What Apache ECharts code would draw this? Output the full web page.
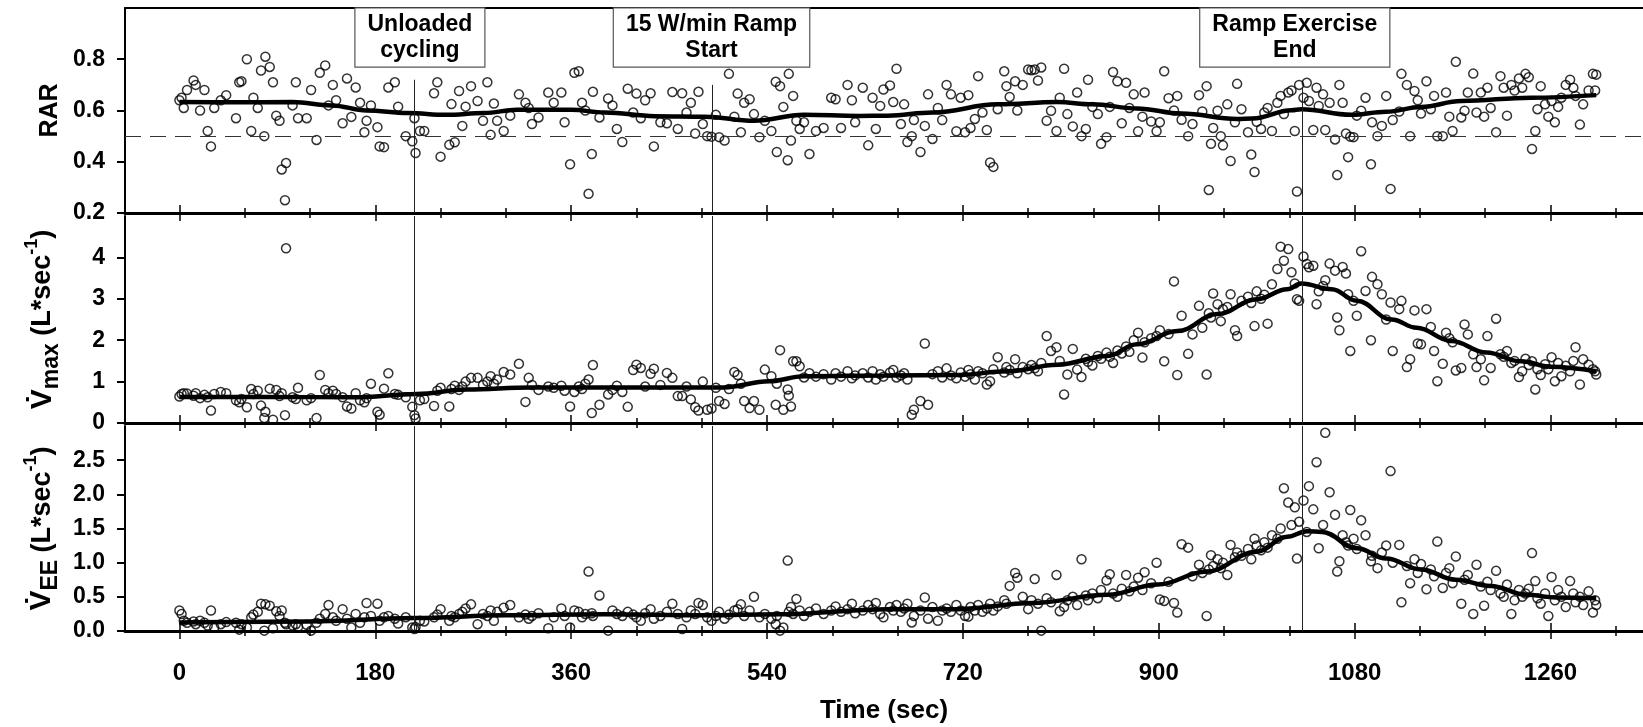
<!DOCTYPE html>
<html>
<head>
<meta charset="utf-8">
<title>RAR, Vmax and VEE during ramp exercise</title>
<script src="https://cdn.jsdelivr.net/npm/echarts@6.0.0/dist/echarts.min.js"></script>
<style>
  html, body { margin: 0; padding: 0; background: #fff; }
  #chart { width: 1643px; height: 727px; }
</style>
</head>
<body>
<div id="chart"></div>
<script>
// breath-by-breath data (time in sec)
const breathTime = [
  0, 2, 4, 7, 13, 15, 19, 23, 26, 29,
  32, 38, 43, 52, 55, 57, 62, 66, 68, 72,
  75, 78, 79, 83, 86, 89, 92, 94, 97, 98,
  104, 107, 109, 117, 121, 126, 129, 134, 137, 141,
  144, 150, 154, 158, 162, 166, 170, 172, 176, 182,
  184, 188, 192, 198, 201, 208, 214, 216, 217, 221,
  225, 234, 237, 240, 248, 250, 253, 257, 260, 263,
  268, 274, 279, 283, 286, 289, 292, 298, 304, 312,
  318, 321, 324, 330, 339, 344, 351, 354, 359, 363,
  367, 370, 373, 376, 379, 380, 386, 394, 398, 402,
  407, 412, 417, 420, 424, 428, 433, 436, 442, 448,
  453, 458, 462, 466, 470, 474, 477, 481, 485, 489,
  493, 496, 501, 505, 510, 513, 516, 519, 524, 528,
  533, 538, 544, 548, 549, 552, 555, 559, 560, 562,
  564, 567, 570, 574, 579, 585, 592, 599, 603, 608,
  614, 618, 621, 628, 633, 637, 640, 644, 647, 653,
  656, 659, 663, 666, 669, 673, 675, 681, 685, 688,
  692, 697, 701, 705, 709, 714, 718, 722, 725, 727,
  731, 734, 738, 742, 745, 748, 752, 758, 760, 763,
  768, 770, 775, 780, 783, 786, 789, 792, 797, 801,
  806, 809, 813, 816, 821, 825, 829, 833, 835, 839,
  844, 847, 852, 855, 858, 862, 866, 870, 873, 877,
  881, 885, 887, 893, 898, 901, 905, 909, 914, 917,
  921, 927, 931, 937, 940, 944, 946, 948, 950, 954,
  957, 959, 963, 966, 970, 972, 976, 982, 985, 988,
  990, 994, 997, 1000, 1004, 1009, 1012, 1015, 1019, 1022,
  1025, 1027, 1029, 1033, 1036, 1038, 1042, 1045, 1047, 1051,
  1053, 1057, 1062, 1064, 1066, 1069, 1072, 1074, 1076, 1079,
  1082, 1086, 1090, 1095, 1096, 1101, 1105, 1109, 1113, 1115,
  1121, 1123, 1128, 1131, 1135, 1138, 1141, 1146, 1150, 1153,
  1156, 1161, 1164, 1167, 1170, 1173, 1178, 1181, 1184, 1189,
  1192, 1196, 1199, 1202, 1205, 1210, 1214, 1217, 1220, 1224,
  1227, 1231, 1234, 1237, 1240, 1243, 1246, 1248, 1251, 1255,
  1258, 1261, 1264, 1267, 1270, 1274, 1278, 1281, 1283, 1287,
  1290, 1295, 1299, 1301, 1302
]

const rar = [
  .64, .65, .61, .68, .717, .70, .60, .68, .52, .46,
  .61, .64, .66, .57, .71, .714, .80, .52, .65, .61,
  .756, .50, .81, .77, .71, .58, .56, .37, .25, .395,
  .62, .71, .57, .57, .68, .485, .747, .776, .62, .70,
  .64, .55, .725, .575, .69, .63, .515, .56, .62, .535,
  .46, .457, .69, .71, .615, .50, .48, .57, .434, .52,
  .52, .667, .71, .42, .466, .625, .476, .676, .54, .615,
  .695, .637, .56, .71, .505, .627, .56, .52, .58, .663,
  .63, .61, .547, .573, .67, .63, .67, .554, .39, .747,
  .753, .63, .60, .275, .43, .673, .573, .647, .62, .528,
  .477, .685, .592, .666, .57, .64, .667, .46, .554, .55,
  .672, .528, .667, .592, .63, .51, .673, .547, .50, .498,
  .583, .496, .483, .743, .576, .666, .515, .63, .644, .586,
  .496, .56, .52, .712, .438, .695, .614, .406, .743, .483,
  .657, .56, .528, .554, .43, .52, .532, .65, .644, .532,
  .70, .64, .554, .689, .464, .65, .528, .618, .682, .698,
  .633, .763, .547, .624, .477, .50, .563, .438, .54, .663,
  .489, .61, .563, .70, .663, .519, .65, .515, .66, .532,
  .567, .734, .592, .524, .397, .38, .605, .753, .695, .653,
  .714, .60, .70, .76, .757, .76, .717, .768, .56, .599,
  .52, .65, .763, .586, .538, .67, .50, .528, .72, .614,
  .586, .47, .496, .614, .75, .714, .55, .708, .61, .663,
  .519, .576, .67, .557, .519, .554, .753, .648, .60, .657,
  .564, .50, .547, .66, .596, .695, .29, .47, .532, .599,
  .50, .464, .624, .403, .554, .704, .605, .515, .428, .36,
  .556, .528, .592, .61, .52, .63, .657, .586, .67, .678,
  .52, .284, .70, .65, .708, .637, .524, .689, .618, .663,
  .524, .63, .487, .348, .70, .63, .51, .418, .498, .496,
  .58, .599, .65, .39, .554, .50, .54, .657, .294, .563,
  .596, .743, .70, .50, .676, .64, .588, .714, .605, .657,
  .50, .50, .67, .576, .52, .79, .573, .599, .67, .744,
  .592, .67, .576, .689, .61, .515, .734, .689, .58, .70,
  .678, .725, .689, .743, .73, .45, .52, .605, .695, .624,
  .576, .637, .554, .614, .65, .70, .72, .689, .657, .545,
  .624, .678, .743, .678, .74
]

const vmax = [
  .64, .70, .72, .71, .66, .72, .60, .68, .62, .30,
  .70, .75, .72, .55, .50, .58, .38, .82, .70, .78,
  .42, .12, .27, .83, .08, .80, .65, .72, .19, 4.22,
  .62, .58, .85, .55, .60, .12, 1.16, .80, .72, .78,
  .70, .62, .40, .35, .72, .55, .50, .60, .95, .27,
  .20, .83, 1.20, .70, .68, .62, .39, .19, .11, .55,
  .58, .41, .78, .85, .40, .82, .90, .80, .88, 1.00,
  1.09, 1.09, .92, 1.00, 1.13, .95, 1.05, 1.23, 1.17, 1.43,
  .51, 1.09, .92, .80, .88, .85, .90, .78, .40, .75,
  .88, .82, .95, 1.05, .24, 1.40, .44, .69, .80, .90,
  .75, .39, 1.28, 1.41, 1.33, .88, 1.19, 1.31, .92, 1.21,
  1.09, .65, .65, .88, .57, .38, .30, 1.00, .32, .35,
  .85, .53, .46, .82, 1.23, 1.16, .95, .53, .36, .53,
  .32, 1.29, 1.13, .44, .95, 1.76, .32, .81, .66, .40,
  1.49, 1.49, 1.37, 1.10, 1.20, 1.12, 1.18, 1.05, 1.20, 1.12,
  1.25, 1.08, 1.15, 1.20, 1.10, 1.25, 1.05, 1.18, 1.12, 1.22,
  1.28, 1.10, 1.15, 1.20, 1.05, .20, .32, .53, 1.92, .44,
  1.18, 1.25, 1.10, 1.32, 1.15, 1.08, 1.22, 1.12, 1.28, 1.18,
  1.05, 1.25, 1.20, .93, 1.01, 1.30, 1.59, 1.22, 1.35, 1.28,
  1.54, 1.20, 1.35, 1.30, 1.40, 1.32, 1.25, 1.45, 2.10, 1.74,
  1.83, 1.50, .69, 1.17, 1.79, 1.29, 1.11, 1.55, 1.48, 1.39,
  1.62, 1.55, 1.70, 1.60, 1.45, 1.75, 1.68, 1.85, 1.72, 2.00,
  2.18, 1.58, 1.95, 2.05, 2.10, 2.24, 1.49, 2.15, 3.42, 1.16,
  2.59, 1.67, 2.14, 2.83, 2.30, 1.17, 2.65, 2.55, 3.13, 2.87,
  2.46, 2.75, 2.80, 3.11, 2.24, 2.10, 2.95, 3.05, 2.90, 2.34,
  3.18, 3.00, 3.10, 2.40, 3.35, 3.72, 4.26, 3.92, 4.20, 3.64,
  3.37, 2.99, 2.95, 4.02, 3.84, 3.76, 3.80, 2.87, 3.18, 3.31,
  3.45, 3.85, 3.68, 2.55, 2.24, 3.77, 3.61, 3.11, 1.74, 2.95,
  2.59, 4.15, 3.19, 2.00, 3.53, 3.35, 3.11, 2.50, 2.91, 1.74,
  2.75, 2.95, 1.35, 1.54, 2.72, 1.92, 1.90, 2.75, 2.32, 1.74,
  1.01, 1.43, 2.18, 2.05, 1.95, 1.27, 1.33, 2.38, 2.14, 1.66,
  1.35, 1.54, 1.03, 2.10, 1.33, 2.52, 1.66, 1.60, 1.74, 1.45,
  1.50, 1.11, 1.25, 1.55, 1.40, 1.49, .81, 1.30, 1.16, 1.42,
  1.30, 1.59, 1.01, 1.45, 1.13, 1.38, 1.25, 1.50, 1.83, .93,
  1.54, 1.41, 1.30, 1.25, 1.17
]

const vee = [
  .30, .25, .15, .12, .14, .10, .15, .12, .08, .30,
  .05, .10, .13, .12, .02, .10, .05, .20, .24, .28,
  .40, .005, .39, .37, .04, .29, .22, .30, .12, .10,
  .08, .10, .06, .09, .005, .12, .18, .25, .38, .20,
  .15, .32, .18, .05, .25, .12, .20, .41, .22, .40,
  .15, .20, .22, .18, .11, .20, .05, .03, .06, .15,
  .14, .20, .24, .32, .15, .22, .20, .25, .28, .33,
  .39, .10, .25, .22, .30, .15, .28, .34, .38, .20,
  .24, .18, .22, .26, .04, .20, .33, .22, .05, .30,
  .28, .20, .25, .87, .26, .22, .52, .005, .30, .25,
  .22, .28, .24, .20, .15, .26, .32, .18, .22, .28,
  .40, .25, .03, .20, .30, .25, .41, .38, .20, .15,
  .22, .28, .18, .24, .30, .32, .39, .22, .30, .50,
  .20, .25, .18, .10, .22, .005, .05, 1.03, .28, .35,
  .25, .47, .30, .22, .28, .33, .25, .30, .36, .28,
  .32, .40, .26, .30, .38, .32, .41, .25, .20, .35,
  .30, .38, .28, .33, .40, .125, .22, .30, .49, .18,
  .35, .15, .30, .33, .28, .38, .30, .22, .21, .35,
  .30, .38, .28, .33, .40, .30, .36, .45, .40, .66,
  .85, .78, .50, .32, .45, .76, .40, .005, .48, .42,
  .82, .29, .35, .45, .50, .38, 1.05, .52, .45, .55,
  .48, .60, .74, .83, .55, .50, .62, .82, .58, .65,
  .78, .60, .86, .70, 1.00, .46, .44, .72, .41, .27,
  1.27, 1.22, .80, .97, .85, .22, .90, 1.11, .95, 1.05,
  .92, 1.00, .82, 1.26, 1.08, 1.15, 1.10, 1.20, 1.05, 1.35,
  1.25, 1.18, 1.30, 1.22, 1.40, 1.35, 1.50, 2.09, 1.88, 1.55,
  1.81, 1.06, 1.60, 1.91, 1.45, 2.12, 1.78, 2.47, 1.21, 1.55,
  2.90, 2.03, 1.70, .87, 1.02, 1.40, 1.30, 1.25, 1.77, 1.35,
  1.20, 1.62, 1.40, 1.02, 1.10, .92, 1.15, 1.25, 2.34, 1.00,
  1.26, .42, .95, .70, 1.05, .85, .98, .61, .90, .80,
  1.31, .63, .85, .92, .70, 1.09, .40, .75, .82, .25,
  .97, .65, .37, .72, .60, .88, .55, .50, .68, .25,
  .45, .60, .50, .55, .62, 1.14, .73, .48, .40, .55,
  .22, .79, .45, .60, .50, .35, .73, .55, .42, .50,
  .38, .58, .27, .45, .38
]

// smoothed curves
const rarFitTime = [0, 50, 104, 140, 172, 210, 245, 280, 310, 360, 391, 437, 483, 528, 574, 624, 651, 692, 752, 807, 839, 880, 921, 972, 986, 1022, 1031, 1077, 1109, 1141, 1178, 1242, 1302]
const rarFit = [0.633, 0.632, 0.633, 0.62, 0.60, 0.59, 0.583, 0.59, 0.603, 0.603, 0.592, 0.578, 0.576, 0.56, 0.583, 0.579, 0.58, 0.592, 0.624, 0.633, 0.624, 0.608, 0.588, 0.567, 0.569, 0.601, 0.605, 0.583, 0.595, 0.614, 0.637, 0.65, 0.66]

const vmaxFitTime = [0, 80, 160, 218, 264, 323, 400, 500, 542, 574, 650, 715, 761, 807, 853, 880, 917, 954, 990, 1018, 1031, 1059, 1082, 1114, 1137, 1169, 1201, 1233, 1260, 1302]
const vmaxFit = [0.63, 0.63, 0.62, 0.70, 0.81, 0.86, 0.86, 0.86, 1.01, 1.13, 1.15, 1.16, 1.25, 1.41, 1.62, 1.90, 2.22, 2.63, 2.99, 3.23, 3.37, 3.23, 2.95, 2.50, 2.30, 1.98, 1.70, 1.49, 1.36, 1.25]

const veeFitTime = [0, 118, 216, 300, 391, 483, 551, 651, 715, 784, 853, 899, 944, 990, 1018, 1036, 1050, 1082, 1109, 1141, 1173, 1205, 1238, 1265, 1302]
const veeFit = [0.125, 0.14, 0.19, 0.23, 0.245, 0.23, 0.245, 0.32, 0.32, 0.41, 0.53, 0.68, 0.87, 1.16, 1.38, 1.46, 1.45, 1.21, 1.06, 0.90, 0.75, 0.66, 0.53, 0.49, 0.48]

// ticks
const majorTicks = [0, 180, 360, 540, 720, 900, 1080, 1260]
const minorTicks = [60, 120, 240, 300, 420, 480, 600, 660, 780, 840, 960, 1020, 1140, 1200, 1320]
const rarTicks = [0.2, 0.4, 0.6, 0.8]
const vmaxTicks = [0, 1, 2, 3, 4]
const veeTicks = [0, 0.5, 1, 1.5, 2, 2.5]

// protocol events
const eventTime = [216, 490, 1032]
const eventLabel = ['Unloaded\ncycling', '15 W/min Ramp\nStart', 'Ramp Exercise\nEnd']

const FONT = "'Liberation Sans', Arial, Helvetica, sans-serif"
const X_MIN = -50
const X_MAX = 1345
const eventLineTop = [0.72, 0.70, 0.69]
const boxCenterX = [221, 489, 1025]
const boxCenterY = 0.885

const myChart = echarts.init(document.getElementById('chart'), null, { renderer: 'canvas' })

const pairs = (xs, ys) => xs.map((x, i) => [x, ys[i]])
const boldText = (size) => ({ fontSize: size, fontWeight: 'bold', color: '#000', fontFamily: FONT })

function xAxesFor(g, withLabels) {
  const base = {
    type: 'value', gridIndex: g, min: X_MIN, max: X_MAX, position: 'bottom',
    splitLine: { show: false },
    axisLine: { show: false, onZero: false },
    axisLabel: { show: false },
  }
  const tick = (values, inside, length) => ({
    show: true, customValues: values, inside: inside, length: length,
    lineStyle: { color: '#000', width: 1.5 },
  })
  const axes = [
    Object.assign({}, base, {
      axisLine: { show: true, onZero: false, lineStyle: { color: '#000', width: 3 } },
      axisTick: tick(majorTicks, false, 8),
    }),
    Object.assign({}, base, { axisTick: tick(majorTicks, true, 8) }),
    Object.assign({}, base, { axisTick: tick(minorTicks, false, 5) }),
    Object.assign({}, base, { axisTick: tick(minorTicks, true, 5) }),
  ]
  if (withLabels) {
    axes[0].axisLabel = Object.assign({
      show: true, customValues: majorTicks, margin: 30, formatter: (v) => String(v),
    }, boldText(24))
    axes[0].name = 'Time (sec)'
    axes[0].nameLocation = 'middle'
    axes[0].nameGap = 67
    axes[0].nameTextStyle = boldText(26)
  }
  return axes
}

function yAxisFor(g, min, max, ticks, digits, name, gap, nameStyle) {
  return {
    type: 'value', gridIndex: g, min: min, max: max,
    splitLine: { show: false },
    axisLine: { show: true, onZero: false, lineStyle: { color: '#000', width: 2 } },
    axisTick: { show: true, customValues: ticks, length: 8, lineStyle: { color: '#000', width: 2 } },
    axisLabel: Object.assign({ customValues: ticks, margin: 20, formatter: (v) => v.toFixed(digits) }, boldText(23)),
    name: name, nameLocation: 'middle', nameRotate: 90, nameGap: gap,
    nameTextStyle: nameStyle,
  }
}

const flowNameStyle = {
  rich: {
    v: Object.assign({ lineHeight: 40, verticalAlign: 'middle' }, boldText(30)),
    s: Object.assign({ lineHeight: 30, verticalAlign: 'bottom' }, boldText(23)),
    t: Object.assign({ lineHeight: 40, verticalAlign: 'middle' }, boldText(27)),
    p: Object.assign({ lineHeight: 18, verticalAlign: 'top' }, boldText(18)),
  },
}

const scatterBase = {
  type: 'scatter', symbol: 'circle', symbolSize: 9, silent: true, z: 2,
  itemStyle: { color: 'rgba(255,255,255,0)', borderColor: '#000', borderWidth: 1.5 },
}
const fitBase = {
  type: 'line', smooth: 0.4, smoothMonotone: 'x', symbol: 'none', silent: true, z: 3,
  lineStyle: { color: '#000', width: 4.5 },
}
const markLineBase = {
  silent: true, symbol: ['none', 'none'], label: { show: false },
  lineStyle: { color: '#222', width: 1, type: 'solid' },
}

let option = {
  animation: false,
  backgroundColor: '#fff',
  textStyle: { fontFamily: FONT },
  grid: [
    { left: 125, right: 0, top: 8, height: 205, containLabel: false },
    { left: 125, right: 0, top: 216, height: 207, containLabel: false },
    { left: 125, right: 0, top: 426, height: 205, containLabel: false },
  ],
  xAxis: [
    ...xAxesFor(0, false),
    ...xAxesFor(1, false),
    ...xAxesFor(2, true),
    // frame line along the top of the first panel
    {
      type: 'value', gridIndex: 0, min: X_MIN, max: X_MAX, position: 'top',
      axisLine: { show: true, onZero: false, lineStyle: { color: '#000', width: 2 } },
      axisTick: { show: false }, axisLabel: { show: false }, splitLine: { show: false },
    },
  ],
  yAxis: [
    yAxisFor(0, 0.2, 1.0, rarTicks, 1, 'RAR', 56, boldText(25)),
    yAxisFor(1, 0, 5, vmaxTicks, 0, '{v|V\u0307}{s|max}{t| (L*sec}{p|-1}{t|)}', 62, flowNameStyle),
    yAxisFor(2, 0, 3, veeTicks, 1, '{v|V\u0307}{s|EE}{t| (L*sec}{p|-1}{t|)}', 62, flowNameStyle),
  ],
  series: [
    Object.assign({}, scatterBase, {
      name: 'RAR', xAxisIndex: 0, yAxisIndex: 0, data: pairs(breathTime, rar),
      markLine: Object.assign({}, markLineBase, {
        data: [
          { yAxis: 0.5, lineStyle: { type: [16, 9], color: '#333', width: 1 } },
          ...eventTime.map((t, i) => [{ coord: [t, eventLineTop[i]] }, { coord: [t, 0.2] }]),
        ],
      }),
      markPoint: {
        silent: true, symbol: 'rect', symbolSize: 1,
        itemStyle: { color: 'rgba(0,0,0,0)' },
        label: Object.assign({
          show: true, position: 'inside', formatter: '{b}', lineHeight: 26, align: 'center',
          backgroundColor: '#fff', borderColor: '#555', borderWidth: 1.2, padding: [3, 12],
        }, boldText(23)),
        data: eventLabel.map((s, i) => ({ name: s, coord: [boxCenterX[i], boxCenterY] })),
      },
    }),
    Object.assign({}, fitBase, { name: 'RAR fit', xAxisIndex: 0, yAxisIndex: 0, data: pairs(rarFitTime, rarFit) }),
    Object.assign({}, scatterBase, {
      name: 'Vmax', xAxisIndex: 4, yAxisIndex: 1, data: pairs(breathTime, vmax),
      markLine: Object.assign({}, markLineBase, { data: eventTime.map((t) => ({ xAxis: t })) }),
    }),
    Object.assign({}, fitBase, { name: 'Vmax fit', xAxisIndex: 4, yAxisIndex: 1, data: pairs(vmaxFitTime, vmaxFit) }),
    Object.assign({}, scatterBase, {
      name: 'VEE', xAxisIndex: 8, yAxisIndex: 2, data: pairs(breathTime, vee),
      markLine: Object.assign({}, markLineBase, { data: eventTime.map((t) => ({ xAxis: t })) }),
    }),
    Object.assign({}, fitBase, { name: 'VEE fit', xAxisIndex: 8, yAxisIndex: 2, data: pairs(veeFitTime, veeFit) }),
  ],
}

myChart.setOption(option)
window.addEventListener('resize', function () {
  myChart.resize()
})
</script>
</body>
</html>
